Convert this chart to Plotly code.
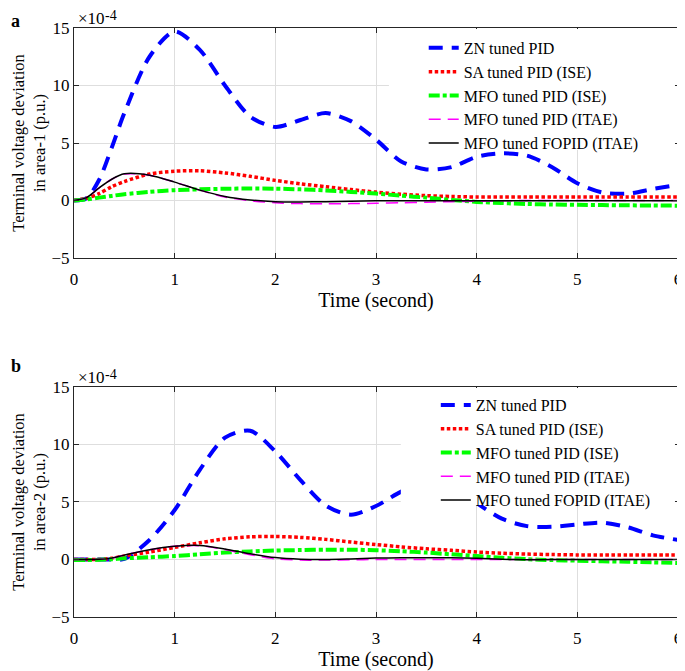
import plotly.graph_objects as go

# time samples (s) shared by all curves
t = [0, 0.125, 0.25, 0.375, 0.5, 0.75, 1.0, 1.25, 1.5, 1.75, 2.0, 2.25, 2.5,
     2.75, 3.0, 3.25, 3.5, 3.75, 4.0, 4.25, 4.5, 4.75, 5.0, 5.25, 5.5, 5.75, 6.0]

names = ["ZN tuned PID", "SA tuned PID (ISE)", "MFO tuned PID (ISE)",
         "MFO tuned PID (ITAE)", "MFO tuned FOPID (ITAE)"]

# area-1 terminal voltage deviation, x1e-4 p.u.
zn_area1 = [0, 0.2, 1.8, 4.6, 7.6, 12.5, 14.7, 13.1, 10.0, 7.3, 6.4, 7.0, 7.6,
            6.9, 5.3, 3.4, 2.7, 2.9, 3.8, 4.1, 3.9, 2.9, 1.5, 0.7, 0.6, 1.0, 1.35]
sa_area1 = [0, 0.2, 0.6, 1.2, 1.65, 2.3, 2.55, 2.58, 2.4, 2.1, 1.75, 1.45, 1.2,
            0.95, 0.73, 0.55, 0.42, 0.35, 0.3, 0.3, 0.3, 0.3, 0.3, 0.3, 0.3, 0.3, 0.3]
mfo_ise_area1 = [0, 0.1, 0.25, 0.4, 0.55, 0.75, 0.9, 0.97, 1.02, 1.04, 1.03, 0.97, 0.88,
                 0.75, 0.6, 0.42, 0.25, 0.05, -0.12, -0.22, -0.3, -0.35, -0.38, -0.4,
                 -0.42, -0.43, -0.45]
mfo_itae_area1 = [0, 0.25, 1.1, 1.85, 2.3, 2.2, 1.6, 0.9, 0.3, -0.02, -0.2, -0.27, -0.28,
                  -0.27, -0.24, -0.2, -0.15, -0.1, -0.06, -0.03, 0, 0, 0, 0, 0, 0, 0]
fopid_area1 = [0, 0.25, 1.1, 1.85, 2.32, 2.2, 1.6, 0.9, 0.35, 0.05, -0.1, -0.12, -0.1,
               -0.06, -0.03, -0.02, -0.02, -0.02, -0.02, -0.02, -0.02, -0.02, -0.02,
               -0.02, -0.02, -0.02, -0.02]

# area-2 terminal voltage deviation, x1e-4 p.u.
zn_area2 = [0, 0, 0, 0, 0.05, 1.7, 4.3, 7.8, 10.6, 11.2, 9.4, 6.9, 4.7,
            3.9, 4.65, 5.9, 6.7, 6.4, 4.9, 3.55, 2.9, 2.85, 3.05, 3.2, 2.8, 2.1, 1.7]
sa_area2 = [0, 0, 0, 0.1, 0.3, 0.65, 1.05, 1.45, 1.8, 1.97, 2.0, 1.92, 1.75,
            1.52, 1.3, 1.1, 0.93, 0.8, 0.65, 0.55, 0.47, 0.43, 0.4, 0.4, 0.4, 0.4, 0.4]
mfo_ise_area2 = [-0.05, -0.05, -0.03, 0.02, 0.1, 0.2, 0.3, 0.45, 0.6, 0.7, 0.78, 0.82, 0.85,
                 0.85, 0.81, 0.72, 0.6, 0.45, 0.3, 0.15, 0.03, -0.05, -0.1, -0.15,
                 -0.2, -0.25, -0.3]
mfo_itae_area2 = [0, 0, 0.02, 0.12, 0.38, 0.85, 1.15, 1.2, 0.85, 0.42, 0.05, -0.05, -0.05,
                  -0.03, 0, 0, 0, 0, 0, 0, 0, 0, 0, 0, 0, 0, 0]
fopid_area2 = [0, 0, 0.02, 0.12, 0.38, 0.85, 1.15, 1.22, 0.92, 0.5, 0.17, 0.03, 0,
               0.05, 0.12, 0.15, 0.16, 0.15, 0.1, 0.02, -0.02, -0.01, 0, 0, 0, 0, 0]

styles = [
    dict(color="#0000ff", width=4, dash="14px,9px"),
    dict(color="#ff0000", width=3.5, dash="3.5px,2.5px"),
    dict(color="#00ff00", width=4, dash="11px,3px,4px,3px"),
    dict(color="#ff00ff", width=1.5, dash="12px,7px"),
    dict(color="#000000", width=1.5),
]

font_family = "Liberation Serif"
fig = go.Figure()

panels = [
    ("x", "y", "legend", [zn_area1, sa_area1, mfo_ise_area1, mfo_itae_area1, fopid_area1]),
    ("x2", "y2", "legend2", [zn_area2, sa_area2, mfo_ise_area2, mfo_itae_area2, fopid_area2]),
]
for xa, ya, leg, series in panels:
    for name, vals, st in zip(names, series, styles):
        fig.add_trace(go.Scatter(
            x=t, y=vals, name=name, mode="lines",
            line=dict(shape="spline", smoothing=0.8, **st),
            xaxis=xa, yaxis=ya, legend=leg,
        ))

axis_common = dict(
    showline=True, linecolor="#262626", linewidth=1, mirror="ticks",
    ticks="inside", ticklen=5, tickcolor="#262626", automargin=False,
    showgrid=True, gridcolor="#dedede", gridwidth=1, zeroline=False,
    tickfont=dict(family=font_family, size=17, color="black"),
)
x_common = dict(range=[0, 6], dtick=1, ticklabelstandoff=6, ticklabeloverflow="allow",
                title=dict(text="Time (second)", standoff=4), **axis_common)
y_common = dict(range=[-5, 15], dtick=5, **axis_common)
y_title_font = dict(family=font_family, size=16.5)

legend_common = dict(xanchor="left", yanchor="top", bgcolor="rgba(0,0,0,0)",
                     borderwidth=0, tracegroupgap=0,
                     font=dict(family=font_family, size=16))

# the page body adds an 8px margin, so the figure is 8px smaller on each axis
fig.update_layout(
    width=677, height=663,
    margin=dict(l=66, r=7, t=20, b=54),
    paper_bgcolor="white", plot_bgcolor="white",
    font=dict(family=font_family, size=17, color="black"),
    xaxis=dict(domain=[0, 1], anchor="y", **x_common),
    yaxis=dict(domain=[0.6095, 1], anchor="x",
               title=dict(text="Terminal voltage deviation<br>in area-1 (p.u.)",
                          standoff=1, font=y_title_font),
               **y_common),
    xaxis2=dict(domain=[0, 1], anchor="y2", **x_common),
    yaxis2=dict(domain=[0, 0.3905], anchor="x2",
                title=dict(text="Terminal voltage deviation<br>in area-2 (p.u.)",
                           standoff=1, font=y_title_font),
                **y_common),
    legend=dict(x=0.579, y=0.995, **legend_common),
    legend2=dict(x=0.599, y=0.3888, **legend_common),
)

# white backing behind each legend, hiding curves and grid like the original
for x0, y0, y1 in [(0.5214, 0.7929, 0.9983), (0.5411, 0.1902, 0.3888)]:
    fig.add_shape(type="rect", xref="paper", yref="paper",
                  x0=x0, x1=0.995, y0=y0, y1=y1,
                  fillcolor="white", line=dict(width=0), layer="above")

# panel letters and the x10^-4 exponent labels
fig.add_annotation(text="<b>a</b>", xref="paper", yref="paper",
                   x=-0.107, y=1.0323, xanchor="left", yanchor="top",
                   showarrow=False, font=dict(size=18, family=font_family))
fig.add_annotation(text="<b>b</b>", xref="paper", yref="paper",
                   x=-0.107, y=0.3905, xanchor="left", yanchor="bottom", yshift=9,
                   showarrow=False, font=dict(size=18, family=font_family))
for ytop in [1.0, 0.3905]:
    fig.add_annotation(text="×10", xref="paper", yref="paper",
                       x=0.004, y=ytop, xanchor="left", yanchor="bottom", yshift=-2,
                       showarrow=False, font=dict(size=17, family=font_family))
    fig.add_annotation(text="-4", xref="paper", yref="paper",
                       x=0.048, y=ytop, xanchor="left", yanchor="bottom", yshift=3,
                       showarrow=False, font=dict(size=14, family=font_family))

fig.write_html("out.html")
